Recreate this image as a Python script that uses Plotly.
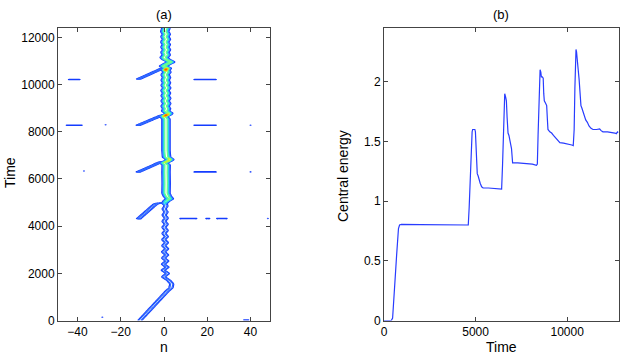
import numpy as np
import plotly.graph_objects as go

# ---------------- panel (a): soliton track ----------------
main_t = [0, 1250, 1380, 1550, 1700, 1850, 2000, 2130, 2260, 2390, 2520, 2650, 2780, 2910,
          3040, 3170, 3300, 3430, 3560, 3690, 3820, 3950, 4080, 4210, 4340, 4470, 4600, 4730,
          4860, 4960, 5060, 5160, 5260, 5400, 5800, 6300, 6600, 6680, 6760, 6830, 6920, 7200,
          8000, 8550, 8650, 8720, 8790, 8870, 8980, 9090, 9200, 9310, 9420, 9530, 9640, 9750,
          9860, 9970, 10080, 10190, 10300, 10420, 10540, 10620, 10700, 10780, 10880, 10960,
          11060, 11150, 11260, 11370, 11480, 11590, 11700, 11810, 11920, 12030, 12140, 12250, 12400]
main_n = [-11.2, 1.5, 3.2, 3.6, 2.2, -0.3, 1.7, -0.5, 1.5, -0.4, 1.4, -0.3, 1.3, -0.3,
          1.3, -0.2, 1.2, -0.2, 1.2, -0.1, 1.1, -0.1, 1.1, -0.1, 1.1, 0.0, 1.0, 0.0,
          1.0, 0.3, 1.0, 2.6, 1.6, 0.9, 1.0, 0.9, 1.0, -0.2, 1.8, 2.8, 1.2, 0.9,
          0.9, 0.9, -0.2, 1.4, 2.4, 0.7, 1.2, 0.5, 1.3, 0.5, 1.3, 0.5, 1.2, 0.4,
          1.3, 0.5, 1.2, 0.5, 1.2, 0.5, 1.4, 0.6, 1.6, -0.4, 1.5, 3.3,
          1.0, 0.0, 1.1, 0.4, 1.2, 0.4, 1.1, 0.3, 1.2, 0.4, 1.1, 0.3, 0.9]
amp_t = [0, 4900, 5050, 5300, 6650, 6800, 6900, 8620, 8700, 8780, 10560, 10640, 10720, 12400]
amp_v = [0.27, 0.27, 0.5, 0.585, 0.585, 0.68, 0.585, 0.585, 0.88, 0.585, 0.585, 0.88, 0.585, 0.585]
width_t = [0, 4900, 5150, 12400]
width_v = [0.95, 0.95, 1.45, 1.45]

branch_t = [[4316, 4950, 5000], [6296, 6720], [8278, 8700], [10230, 10680]]
branch_n = [[-11.7, -3.8, 0.0], [-11.9, -1.5], [-11.9, -1.0], [-11.9, -1.0]]
branch_amp = [0.25, 0.25, 0.25, 0.25]

dash_t = [10230, 10230, 8280, 8300, 8280, 8280, 6300, 6300, 6340, 4316, 4316, 4316, 4316, 140, 20]
dash_n1 = [-44, 14, -45, -27, 14, 40, 14, 40, -37, 7.5, 19.5, 24.5, 48, -28.5, 37]
dash_n2 = [-39, 24, -38, -27, 24, 40, 24, 40, -37, 15, 21, 29, 48, -28.5, 39]

# ---------------- panel (b): central energy ----------------
energy_t = [0, 400, 470, 560, 620, 690, 740, 790, 850, 950, 2000, 3500, 4500, 4600, 4650, 4700,
            4760, 4810, 4840, 4900, 4960, 4990, 5030, 5060, 5090, 5140, 5180, 5250, 5330, 5410,
            5700, 6000, 6200, 6360, 6420, 6470, 6520, 6560, 6590, 6640, 6680, 6720, 6770, 6820,
            6860, 6920, 6960, 6990, 7020, 7300, 7700, 8100, 8320, 8370, 8410, 8450, 8490, 8520,
            8560, 8590, 8640, 8690, 8720, 8750, 8820, 8880, 8920, 8950, 9050, 9150, 9250, 9350,
            9450, 9600, 9800, 10000, 10250, 10330, 10380, 10420, 10450, 10480, 10510, 10550,
            10600, 10650, 10700, 10750, 10800, 10870, 10950, 11010, 11100, 11190, 11300, 11410,
            11600, 11770, 11850, 11950, 12200, 12400, 12500, 12600, 12680, 12750, 12800]
energy_v = [0, 0, 0.02, 0.2, 0.38, 0.55, 0.7, 0.77, 0.8, 0.805, 0.803, 0.8, 0.797, 0.8, 0.95, 1.2,
            1.45, 1.58, 1.6, 1.6, 1.6, 1.58, 1.45, 1.3, 1.23, 1.21, 1.18, 1.15, 1.12, 1.11,
            1.11, 1.105, 1.1, 1.095, 1.1, 1.3, 1.6, 1.88, 1.9, 1.87, 1.84, 1.7, 1.57, 1.55,
            1.52, 1.48, 1.44, 1.38, 1.32, 1.32, 1.315, 1.31, 1.3, 1.31, 1.55, 1.85, 2.08, 2.1,
            2.08, 2.04, 2.04, 2.03, 1.9, 1.84, 1.82, 1.8, 1.68, 1.6, 1.58, 1.57, 1.55, 1.53,
            1.51, 1.49, 1.485, 1.48, 1.47, 1.465, 1.6, 1.95, 2.2, 2.27, 2.25, 2.2,
            2.1, 2.02, 1.85, 1.8, 1.78, 1.74, 1.7, 1.68, 1.66, 1.63, 1.61, 1.6,
            1.6, 1.605, 1.59, 1.58, 1.58, 1.578, 1.575, 1.57, 1.565, 1.58, 1.575]

# ---------------- build the contour field from the track ----------------
n_grid = np.arange(-49, 49.01, 0.5)
t_grid = np.arange(0, 12401, 20)
c = np.interp(t_grid, main_t, main_n)
c[1:-1] = 0.25 * c[:-2] + 0.5 * c[1:-1] + 0.25 * c[2:]   # round the corners of the track
a = np.interp(t_grid, amp_t, amp_v)
s = np.interp(t_grid, width_t, width_v)
z = a[:, None] * np.exp(-((n_grid[None, :] - c[:, None]) / s[:, None]) ** 2)
for bt, bn, ba in zip(branch_t, branch_n, branch_amp):
    rows = (t_grid >= bt[0]) & (t_grid <= bt[-1])
    cb = np.interp(t_grid[rows], bt, bn)
    zb = ba * np.exp(-((n_grid[None, :] - cb[:, None]) / 1.1) ** 2)
    z[rows] = np.maximum(z[rows], zb)
for dt, d1, d2 in zip(dash_t, dash_n1, dash_n2):
    r = int(np.argmin(np.abs(t_grid - dt)))
    m = (n_grid >= d1 - 0.3) & (n_grid <= d2 + 0.3)
    z[r, m] = np.maximum(z[r, m], 0.16)
z[z < 0.01] = 0
z = z.round(3)

# colour of each contour level 0.1 ... 0.9 (jet-like); plotly maps level L to (L-0.05)/0.8
level_colors = ['rgb(20,60,255)', 'rgb(70,150,255)', 'rgb(0,215,255)', 'rgb(70,255,175)',
                'rgb(140,250,100)', 'rgb(245,240,0)', 'rgb(255,150,0)', 'rgb(255,40,0)', 'rgb(190,0,0)']
cscale = [[0, level_colors[0]]]
for k, col in enumerate(level_colors):
    cscale.append([min(1.0, (k + 0.5) / 8), col])
cscale[-1][0] = 1.0

fig = go.Figure()
fig.add_trace(go.Contour(
    x=n_grid.tolist(), y=t_grid.tolist(), z=z.tolist(),
    autocontour=False,
    contours=dict(start=0.1, end=0.9, size=0.1, coloring='lines'),
    colorscale=cscale, line=dict(width=1.2), showscale=False, hoverinfo='skip',
    xaxis='x', yaxis='y'))
fig.add_trace(go.Scatter(
    x=energy_t, y=energy_v, mode='lines',
    line=dict(color='rgb(40,60,255)', width=1.2),
    xaxis='x2', yaxis='y2', showlegend=False))

ax = dict(showline=True, mirror='ticks', linecolor='#444', linewidth=1, ticks='inside',
          ticklen=4, tickcolor='#444', showgrid=False, zeroline=False, automargin=False,
          tickfont=dict(size=12, color='black'))
ydom = [1 - 320.5 / 357, 1 - 28 / 357]


def note(text, px, py, size, angle=0):
    return dict(text=text, x=px / 623, y=1 - py / 357, xref='paper', yref='paper',
                xanchor='center', yanchor='middle', showarrow=False, textangle=angle,
                font=dict(size=size))


fig.update_layout(
    template='none',
    width=623, height=357, margin=dict(l=0, r=0, t=0, b=0, pad=0),
    paper_bgcolor='white', plot_bgcolor='white', showlegend=False,
    font=dict(family='Liberation Sans, Arial, sans-serif', size=12, color='black'),
    xaxis=dict(ax, domain=[58 / 623, 270 / 623], range=[-49, 49], tickvals=[-40, -20, 0, 20, 40], anchor='y'),
    yaxis=dict(ax, domain=ydom, range=[0, 12400], tick0=0, dtick=2000, tickformat='d', anchor='x'),
    xaxis2=dict(ax, domain=[384 / 623, 618.5 / 623], range=[0, 12800], tickvals=[0, 5000, 10000], tickformat='d', anchor='y2'),
    yaxis2=dict(ax, domain=ydom, range=[0, 2.45], tick0=0, dtick=0.5, anchor='x2'),
    annotations=[
        note('(a)', 163.7, 15, 13),
        note('(b)', 501, 15, 13),
        note('n', 163.7, 347, 14),
        note('Time', 501, 347, 14),
        note('Time', 10, 172, 14, -90),
        note('Central energy', 343, 176, 14, -90),
    ])
fig.write_html('out.html', config={'displayModeBar': False},
               post_script="document.body.style.margin='0';document.body.style.overflow='hidden';")
